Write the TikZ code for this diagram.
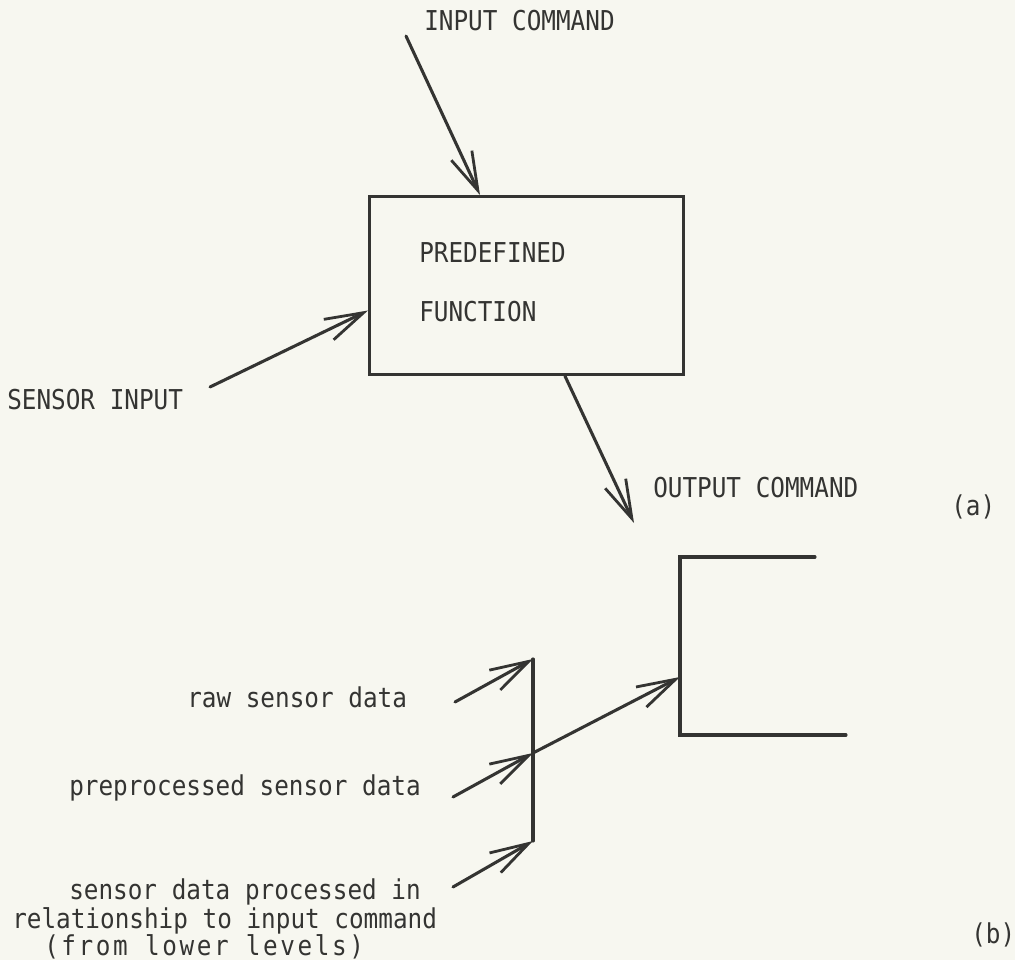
\documentclass[tikz,border=0pt]{standalone}
\usepackage{fontspec}
\setmonofont[FakeStretch=0.89]{DejaVu Sans Mono}
\newfontfamily\widemono[FakeStretch=0.89, LetterSpace=9.5]{DejaVu Sans Mono}
\usetikzlibrary{arrows.meta}
\definecolor{paper}{RGB}{247,247,240}
\definecolor{ink}{RGB}{52,52,50}
\tikzset{
  wire/.style={draw=ink, line width=2.3pt, line cap=round, line join=miter},
  flow/.style={wire, -{Straight Barb[length=29pt, width=17pt, line width=2.1pt]}},
  lbl/.style={anchor=base west, inner sep=0pt, text=ink,
    font=\fontsize{20.5pt}{24pt}\selectfont\ttfamily},
}
\begin{document}
\begin{tikzpicture}[x=0.75pt, y=-0.75pt]
  % page and background
  \fill[paper] (0,0) rectangle (1015,960);
  \useasboundingbox (0,0) rectangle (1015,960);

  % (a) the predefined function block
  \node[wire, rectangle, minimum width=314*0.75pt, minimum height=178*0.75pt,
        inner sep=0pt, anchor=north west] (box) at (368,195) {};
  \node[lbl] (pre) at (419,262) {PREDEFINED};
  \node[lbl] (fun) at (419,321) {FUNCTION};

  \node[lbl] (incmd)  at (424,31)  {INPUT COMMAND};
  \node[lbl] (sensin) at (7,409)   {SENSOR INPUT};
  \node[lbl] (outcmd) at (653,497) {OUTPUT COMMAND};
  \node[lbl] (laba)   at (951,515) {(a)};

  \coordinate (inStart)   at (406,36);
  \coordinate (sensStart) at (210,387);
  \coordinate (outTip)    at (634,523);

  \draw[flow] (inStart) -- ([xshift=84pt]box.north west);
  \draw[flow] (sensStart) -- ([yshift=-18.75pt]box.west);
  \draw[flow] ([xshift=147.75pt]box.south west) -- (outTip);

  % (b) sensory inputs merged into one feed
  \coordinate (brTop) at (815,557);
  \coordinate (brTL)  at (680,557);
  \coordinate (brBL)  at (680,735);
  \coordinate (brBR)  at (846,735);
  \coordinate (brIn)  at (680,677);
  \draw[wire] (brTop) -- (brTL) -- (brBL) -- (brBR);

  \coordinate (colTop) at (533,659);
  \coordinate (colJ)   at (533,753);
  \coordinate (colBot) at (533,841);
  \draw[wire] (colTop) -- (colBot);

  \coordinate (rawStart)  at (455,702);
  \coordinate (preStart)  at (453,797);
  \coordinate (procStart) at (453,887);
  \draw[flow] (rawStart) -- (colTop);
  \draw[flow] (preStart) -- (colJ);
  \draw[flow] (procStart) -- (colBot);
  \draw[flow] (colJ) -- (brIn);

  \node[lbl] (raw)   at (187,707) {raw sensor data};
  \node[lbl] (prep)  at (69,795)  {preprocessed sensor data};
  \node[lbl] (proc1) at (69,899)  {sensor data processed in};
  \node[lbl] (proc2) at (12,928)  {relationship to input command};
  \node[lbl, font=\fontsize{20.5pt}{24pt}\selectfont\widemono]
        (proc3) at (44,955)  {(from lower levels)};
  \node[lbl] (labb)  at (971,943) {(b)};
\end{tikzpicture}
\end{document}
